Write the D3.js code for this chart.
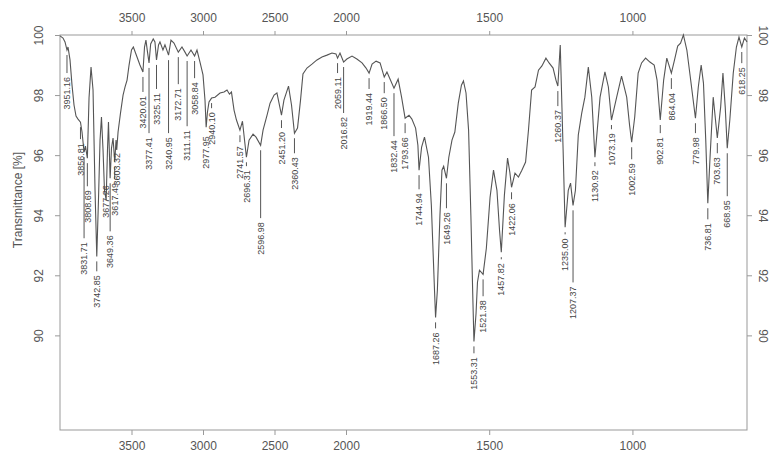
<!DOCTYPE html>
<html>
<head>
<meta charset="utf-8">
<script src="https://cdn.jsdelivr.net/npm/d3@7"></script>
<style>
  body { margin: 0; background: #fff; }
  svg { font-family: "Liberation Sans", Arial, sans-serif; }
</style>
</head>
<body>
<div id="chart"></div>
<script>
// spectrum (cm-1, %T)
const wavenumber = [
  4000, 3979, 3965, 3951.16, 3944, 3930, 3916, 3902, 3888, 3874, 3856.81, 3846, 3831.71, 3822, 3808.69, 3797, 3783, 3769, 3755, 3742.85,
  3731, 3720, 3710, 3699, 3689, 3677.26, 3668, 3661, 3649.36, 3640, 3629, 3617.49, 3608, 3603.32, 3594, 3577, 3559, 3545, 3531, 3517,
  3500, 3487, 3464, 3441, 3420.01, 3409, 3399, 3388, 3377.41, 3366, 3348, 3336, 3325.11, 3311, 3301, 3280, 3266, 3240.95, 3224, 3203,
  3172.71, 3147, 3126, 3111.11, 3084, 3058.84, 3042, 3021, 3000, 2986, 2977.95, 2969, 2958, 2940.10, 2916, 2881, 2853, 2832, 2815, 2801,
  2783, 2766, 2741.57, 2724, 2696.31, 2678, 2650, 2629, 2596.98, 2580, 2552, 2531, 2503, 2483, 2451.20, 2434, 2402, 2381, 2360.43, 2339,
  2318, 2301, 2273, 2238, 2203, 2168, 2133, 2098, 2070, 2059.11, 2042, 2016.82, 1997, 1979, 1962, 1944, 1930, 1919.44, 1909, 1895,
  1881, 1866.50, 1857, 1846, 1832.44, 1818, 1806, 1793.66, 1780, 1770, 1757, 1749, 1744.94, 1736, 1726, 1712, 1702, 1691, 1687.26, 1681,
  1672, 1665, 1659, 1649.26, 1641, 1630, 1620, 1608, 1597, 1590, 1581, 1572, 1564, 1557, 1553.31, 1546, 1541, 1534, 1521.38, 1510,
  1497, 1485, 1473, 1464, 1457.82, 1447, 1436, 1428, 1422.06, 1410, 1398, 1386, 1373, 1363, 1352, 1340, 1328, 1316, 1302, 1291,
  1277, 1267, 1260.37, 1252, 1242, 1235.00, 1224, 1216, 1207.37, 1199, 1189, 1177, 1166, 1154, 1142, 1130.92, 1113, 1096, 1084, 1073.19,
  1055, 1038, 1020, 1010, 1002.59, 992, 980, 968, 954, 939, 924, 914, 902.81, 891, 880, 864.04, 853, 842, 832, 822,
  810, 798, 779.98, 770, 760, 752, 744, 736.81, 729, 718, 703.63, 692, 684, 676, 668.95, 660, 648, 637, 628, 618.25,
  609, 600
];
const transmittance = [
  99.97, 99.90, 99.77, 99.50, 99.60, 99.17, 98.33, 97.67, 97.30, 97.20, 97.10, 96.77, 96.10, 96.30, 95.90, 97.90, 98.93, 98.17, 94.83, 92.63,
  94.50, 96.50, 97.27, 96.17, 94.83, 94.50, 96.17, 97.10, 95.23, 96.23, 96.57, 95.77, 96.50, 96.17, 96.77, 97.40, 98.00, 98.27, 98.50, 99.00,
  99.50, 99.60, 99.30, 99.00, 98.77, 99.60, 99.83, 99.43, 99.07, 99.70, 99.87, 99.77, 99.17, 99.67, 99.77, 99.50, 99.67, 99.33, 99.83, 99.73,
  99.43, 99.60, 99.43, 99.30, 99.50, 99.30, 99.50, 99.10, 98.67, 97.83, 96.93, 97.43, 97.77, 97.90, 97.93, 98.07, 98.10, 98.17, 98.03, 98.10,
  97.50, 97.17, 96.83, 97.13, 95.93, 96.50, 96.70, 96.60, 96.33, 96.83, 97.33, 97.73, 98.00, 98.07, 97.33, 97.83, 98.30, 97.67, 96.73, 96.90,
  97.83, 98.70, 98.90, 99.03, 99.17, 99.27, 99.33, 99.40, 99.37, 99.23, 99.40, 99.10, 99.20, 99.30, 99.20, 99.07, 98.90, 98.73, 99.03, 99.13,
  99.07, 98.60, 98.77, 98.53, 98.23, 98.53, 97.93, 97.23, 97.33, 97.20, 96.90, 96.33, 95.50, 96.27, 96.60, 95.93, 94.33, 91.50, 90.60, 91.50,
  94.00, 95.50, 95.63, 95.23, 95.93, 96.50, 96.77, 97.73, 98.33, 98.47, 98.07, 96.83, 94.00, 91.17, 89.80, 90.73, 91.77, 92.17, 92.03, 92.90,
  94.60, 95.50, 94.83, 93.50, 92.77, 94.67, 95.90, 95.43, 94.93, 95.40, 95.27, 95.50, 95.77, 96.83, 98.17, 98.27, 98.83, 98.97, 99.23, 99.07,
  98.90, 98.50, 98.30, 99.67, 96.17, 93.60, 94.83, 95.07, 94.33, 94.83, 96.67, 97.40, 97.93, 98.93, 97.93, 95.93, 97.93, 98.77, 98.27, 97.17,
  97.93, 98.63, 97.93, 97.00, 96.43, 97.27, 98.73, 99.07, 99.23, 99.10, 99.00, 98.50, 97.17, 98.50, 99.23, 98.73, 99.17, 99.63, 99.73, 100.00,
  99.50, 98.60, 97.23, 98.27, 99.00, 98.40, 96.50, 94.40, 95.93, 97.93, 96.57, 97.60, 98.73, 97.60, 96.23, 97.17, 98.73, 99.60, 99.93, 99.60,
  99.90, 99.77
];

// picked peaks and the %T level where each label starts
const peakWn = [
  3951.16, 3856.81, 3831.71, 3808.69, 3742.85, 3677.26, 3649.36, 3617.49, 3603.32, 3420.01,
  3377.41, 3325.11, 3240.95, 3172.71, 3111.11, 3058.84, 2977.95, 2940.10, 2741.57, 2696.31,
  2596.98, 2451.20, 2360.43, 2059.11, 2016.82, 1919.44, 1866.50, 1832.44, 1793.66, 1744.94,
  1687.26, 1649.26, 1553.31, 1521.38, 1457.82, 1422.06, 1260.37, 1235.00, 1207.37, 1130.92,
  1073.19, 1002.59, 902.81, 864.04, 779.98, 736.81, 703.63, 668.95, 618.25
];
const labelAt = [
  98.60, 96.40, 93.10, 94.83, 92.00, 95.00, 93.33, 95.07, 96.07, 97.97,
  96.60, 98.07, 96.60, 98.23, 96.83, 98.43, 96.63, 97.43, 96.30, 95.50,
  93.77, 96.77, 95.93, 98.60, 97.27, 98.07, 97.93, 96.50, 96.60, 94.73,
  90.10, 94.10, 89.27, 91.17, 92.40, 94.40, 97.50, 93.23, 91.63, 95.50,
  96.73, 95.73, 96.60, 98.07, 96.60, 93.73, 95.93, 94.50, 98.93
];

const xTicks = [3500, 3000, 2500, 2000, 1500, 1000];
const yTicks = [90, 92, 94, 96, 98, 100];

const width = 771, height = 454;
const margin = { top: 35, right: 24, bottom: 24, left: 60 };
const w = width - margin.left - margin.right;
const h = height - margin.top - margin.bottom;

const svg = d3.select('#chart').append('svg')
  .attr('width', width)
  .attr('height', height);
const g = svg.append('g')
  .attr('transform', `translate(${margin.left},${margin.top})`);

// wavenumber axis is compressed 2x above 2000
const x = d3.scaleLinear().domain([4000, 2000, 600]).range([0, 286, w]);
const y = d3.scaleLinear().domain([86.85, 100]).range([h, 0]);

const axisColor = '#999', textColor = '#555';
const tickFmt = d3.format('d');

function styleAxis(sel) {
  sel.select('.domain').remove();
  sel.selectAll('line').attr('stroke', axisColor);
  sel.selectAll('text').attr('fill', textColor).style('font-size', '12px');
}

g.append('g')
  .attr('transform', `translate(0,${h})`)
  .call(d3.axisBottom(x).tickValues(xTicks).tickFormat(tickFmt).tickSize(5).tickPadding(6))
  .call(styleAxis);

g.append('g')
  .call(d3.axisTop(x).tickValues(xTicks).tickFormat(tickFmt).tickSize(4).tickPadding(9))
  .call(styleAxis);

g.append('g')
  .call(d3.axisLeft(y).tickValues(yTicks).tickSize(5))
  .call(styleAxis)
  .selectAll('text')
  .attr('x', null).attr('dy', '0.35em')
  .attr('text-anchor', 'middle')
  .attr('transform', 'translate(-21,0) rotate(-90)');

g.append('g')
  .attr('transform', `translate(${w},0)`)
  .call(d3.axisRight(y).tickValues(yTicks).tickSize(5))
  .call(styleAxis)
  .selectAll('text')
  .attr('x', null).attr('dy', '0.35em')
  .attr('text-anchor', 'middle')
  .attr('transform', 'translate(16,0) rotate(90)');

g.append('rect')
  .attr('width', w).attr('height', h)
  .attr('fill', 'none')
  .attr('stroke', axisColor);

svg.append('text')
  .attr('transform', 'translate(18,200) rotate(-90)')
  .attr('text-anchor', 'middle')
  .attr('dy', '0.35em')
  .attr('fill', textColor)
  .style('font-size', '12px')
  .text('Transmittance [%]');

const spectrum = wavenumber.map((d, i) => ({ wn: d, t: transmittance[i] }));

g.append('path')
  .datum(spectrum)
  .attr('fill', 'none')
  .attr('stroke', '#555')
  .attr('stroke-width', 1.1)
  .attr('d', d3.line().x(d => x(d.wn)).y(d => y(d.t)));

// %T of the spectrum at a given wavenumber
function tAt(wn) {
  for (let i = 0; i < spectrum.length - 1; i++) {
    const a = spectrum[i], b = spectrum[i + 1];
    if (wn <= a.wn && wn >= b.wn) {
      return a.t + (b.t - a.t) * (a.wn - wn) / (a.wn - b.wn);
    }
  }
  return 100;
}

const peaks = peakWn.map((d, i) => ({ wn: d, t: tAt(d), label: labelAt[i] }));
const fmt = d3.format('.2f');

const pk = g.selectAll('.peak')
  .data(peaks)
  .enter().append('g')
  .attr('class', 'peak');

pk.filter(d => y(d.label) - 4 > y(d.t) + 5)
  .append('line')
  .attr('x1', d => x(d.wn)).attr('x2', d => x(d.wn))
  .attr('y1', d => y(d.t) + 5)
  .attr('y2', d => y(d.label) - 4)
  .attr('stroke', '#555');

pk.append('text')
  .attr('transform', d => `translate(${x(d.wn)},${y(d.label)}) rotate(-90)`)
  .attr('text-anchor', 'end')
  .attr('dy', '0.35em')
  .attr('fill', '#444')
  .style('font-size', '9px')
  .text(d => fmt(d.wn));
</script>
</body>
</html>
